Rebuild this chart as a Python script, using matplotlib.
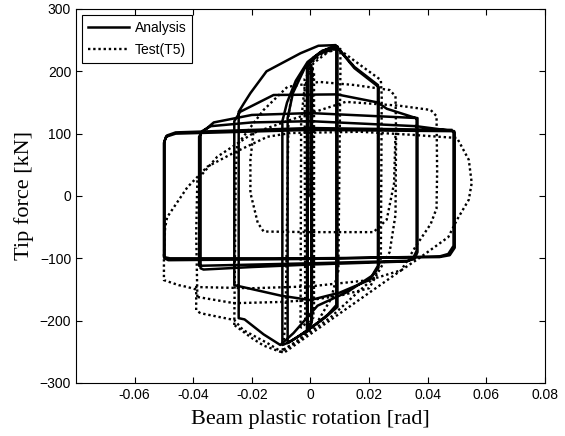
import matplotlib
matplotlib.use("Agg")
import matplotlib.pyplot as plt

# analysis (solid) - cycles, [rad] and [kN]
a1_rot = [0.0, 0.0, 0.0005, 0.0005, -0.001, -0.001, 0.0003, 0.0003, -0.0012, -0.0012]
a1_frc = [0, 195, 205, -200, -212, 200, 210, -205, -218, 205]

a2_rot = [-0.0012, 0.001, 0.004, 0.0085, 0.0088, 0.0088, 0.006, 0.002, -0.003, -0.0075,
          -0.0096, -0.0096, -0.0096, -0.008, -0.005, -0.001, 0.004, 0.0092, 0.0092, 0.005,
          0.0, -0.005, -0.0078, -0.0078, -0.006, -0.002, 0.003, 0.0092]
a2_frc = [205, 222, 232, 242, 240, -175, -190, -205, -222, -235,
          -239, -235, 120, 150, 185, 215, 233, 240, -178, -195,
          -212, -228, -236, 125, 165, 205, 228, 238]

a3_rot = [0.0092, 0.015, 0.023, 0.023, 0.021, 0.0126, 0.0024, -0.0058, -0.0103, -0.016,
          -0.0225, -0.0245, -0.0245, -0.0228, -0.0205, -0.015, -0.0034, 0.0027, 0.0085, 0.015,
          0.0232, 0.0232, 0.02, 0.01, 0.0, -0.01, -0.026, -0.026, -0.024, -0.0126, 0.009, 0.023]
a3_frc = [238, 207, 178, -112, -128, -154, -176, -220, -239, -222,
          -198, -196, 135, 148, 165, 200, 229, 241, 242, 205,
          175, -115, -135, -155, -167, -160, -143, 120, 135, 162, 163, 150]

a4_rot = [0.023, 0.026, 0.036, 0.0362, 0.0362, 0.035, 0.033, 0.0, -0.02, -0.0365,
          -0.0375, -0.0375, -0.036, -0.033, -0.02, 0.0, 0.0365, 0.0365, 0.0355, 0.033,
          0.0, -0.038, -0.038, -0.037, -0.034, -0.02, 0.0, 0.036]
a4_frc = [150, 140, 125, 122, -88, -100, -105, -110, -114, -118,
          -116, 100, 106, 118, 130, 133, 125, -90, -101, -104,
          -108, -112, 95, 104, 112, 118, 120, 112]

a5_rot = [0.036, 0.049, 0.0492, 0.0492, 0.0475, 0.044, 0.0, -0.048, -0.050, -0.050,
          -0.0493, -0.046, 0.0, 0.0485, 0.0488, 0.0488, 0.047, 0.044, 0.0, -0.0485,
          -0.0498, -0.0498, -0.049, -0.046, 0.0, 0.048]
a5_frc = [112, 104, 102, -83, -95, -98, -100, -100, -98, 85,
          95, 100, 106, 104, 101, -80, -93, -97, -101, -103,
          -100, 88, 97, 102, 109, 106]

# test T5 (dotted)
t1_rot = [0.0, 0.0002, 0.0012, 0.0012, -0.0018, -0.002, 0.0008, 0.001, -0.003, -0.0034]
t1_frc = [0, 185, 198, -185, -198, 188, 205, -195, -210, -212]

t2_rot = [-0.0034, -0.0032, -0.002, 0.001, 0.0068, 0.0102, 0.0102, 0.0095, 0.007, 0.002, -0.004, -0.0095]
t2_frc = [-212, 120, 175, 213, 234, 236, 200, -120, -165, -205, -232, -248]

t3_rot = [-0.0095, -0.0085, -0.0075, -0.006, -0.002, 0.004, 0.0095, 0.017, 0.024, 0.0243,
          0.024, 0.022, 0.016, 0.0068, -0.0044, -0.0103, -0.016, -0.02, -0.026]
t3_frc = [-248, -200, 130, 172, 205, 228, 236, 210, 186, 160,
          -100, -130, -155, -195, -232, -250, -240, -228, -207]

t4_rot = [-0.026, -0.0255, -0.025, -0.016, -0.0079, 0.003, 0.015, 0.027, 0.029, 0.0292,
          0.029, 0.027, 0.02, 0.01, 0.0, -0.01, -0.026, -0.0386]
t4_frc = [-207, 40, 82, 138, 175, 183, 178, 170, 160, 100,
          -30, -90, -148, -160, -167, -170, -172, -162]

t5_rot = [-0.0386, -0.039, -0.0386, -0.0318, -0.0195, -0.005, 0.012, 0.03, 0.041, 0.043,
          0.0432, 0.043, 0.041, 0.036, 0.031, 0.018, 0.0068, -0.0044, -0.0092, -0.0147,
          -0.023, -0.026, -0.0376]
t5_frc = [-162, -60, 26, 63, 101, 125, 151, 145, 138, 128,
          40, -20, -45, -80, -119, -162, -199, -236, -252, -236,
          -215, -199, -188]

t6_rot = [-0.0376, -0.039, -0.039, -0.042, -0.045, -0.050, -0.050, -0.0496, -0.0489, -0.042,
          -0.0352, -0.0263, -0.0147, -0.0068, 0.017, 0.035, 0.050, 0.054, 0.055, 0.054,
          0.050, 0.047, 0.0376, 0.031, 0.02, 0.0, -0.02, -0.04]
t6_frc = [-188, -183, -150, -146, -143, -135, -95, -51, -34, 14,
          47, 69, 95, 101, 103, 98, 93, 58, 21, -6,
          -38, -66, -98, -119, -135, -145, -148, -146]

t7_rot = [-0.0195, -0.0205, -0.0205, -0.018, -0.016, 0.0, 0.015, 0.0215, 0.026, 0.0285, 0.029]
t7_frc = [101, 58, 5, -43, -57, -58, -58, -58, -38, 20, 100]

analysis = [(a1_rot, a1_frc), (a2_rot, a2_frc), (a3_rot, a3_frc), (a4_rot, a4_frc), (a5_rot, a5_frc)]
test = [(t1_rot, t1_frc), (t2_rot, t2_frc), (t3_rot, t3_frc), (t4_rot, t4_frc),
        (t5_rot, t5_frc), (t6_rot, t6_frc), (t7_rot, t7_frc)]

xticks = [-0.06, -0.04, -0.02, 0, 0.02, 0.04, 0.06, 0.08]
xtick_labels = ["-0.06", "-0.04", "-0.02", "0", "0.02", "0.04", "0.06", "0.08"]
yticks = [-300, -200, -100, 0, 100, 200, 300]

fig = plt.figure(figsize=(5.65, 4.36), dpi=100)
ax = fig.add_axes([0.1345, 0.1216, 0.8301, 0.8578])

for i, (r, f) in enumerate(analysis):
    ax.plot(r, f, color="black", lw=1.8, solid_joinstyle="round",
            label="Analysis" if i == 0 else None)
for i, (r, f) in enumerate(test):
    ax.plot(r, f, color="black", lw=1.7, linestyle=(0, (1, 1.2)),
            label="Test(T5)" if i == 0 else None)

ax.set_xlim(-0.08, 0.08)
ax.set_ylim(-300, 300)
ax.set_xticks(xticks)
ax.set_xticklabels(xtick_labels)
ax.set_yticks(yticks)
ax.tick_params(direction="in", top=True, right=True, length=4, labelsize=10)
for lab in ax.get_xticklabels() + ax.get_yticklabels():
    lab.set_family("Liberation Sans")

ax.set_xlabel("Beam plastic rotation [rad]", family="Liberation Serif", fontsize=16, labelpad=6)
ax.set_ylabel("Tip force [kN]", family="Liberation Serif", fontsize=16, labelpad=4)

leg = ax.legend(loc="upper left", fancybox=False, framealpha=1, edgecolor="black",
                prop={"family": "Liberation Sans", "size": 10}, handlelength=3.0,
                borderpad=0.4, labelspacing=0.6, handletextpad=0.4, borderaxespad=0.45)
leg.get_frame().set_linewidth(0.8)

fig.savefig("out.png", dpi=100)
